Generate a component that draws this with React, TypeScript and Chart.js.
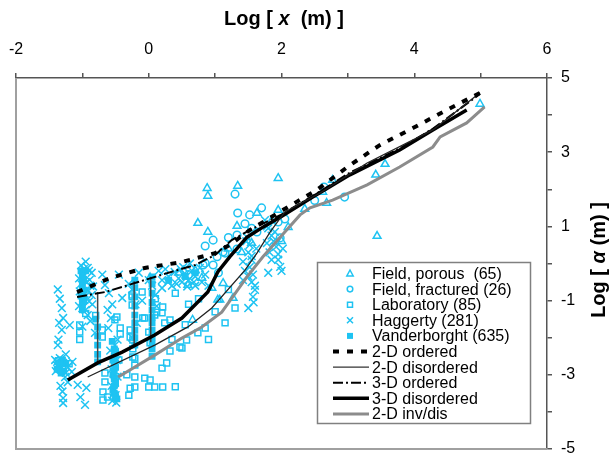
import React, { useEffect, useRef } from 'react';
import { Chart, registerables } from 'chart.js';

Chart.register(...registerables);

const FONT = "'Liberation Sans', Arial, Helvetica, sans-serif";
const CYAN = '#1ec3f2';

// x-axis tick values (top axis), y-axis tick values (right axis)
const xTickLabels = [-2, 0, 2, 4, 6];
const yTickLabels = [-5, -3, -1, 1, 3, 5];

// ---- Model curves: [log x, log alpha] ----
const ordered2D = [
  [-1.08, -0.77], [-0.58, -0.39], [-0.06, -0.12], [0.5, 0.04], [1.0, 0.28], [1.22, 0.5],
  [1.52, 0.9], [2.02, 1.44], [2.53, 1.98], [3.03, 2.65], [3.48, 3.19], [3.98, 3.65],
  [4.43, 4.08], [4.99, 4.6],
];
const disordered2D = [
  [-0.92, -3.06], [0.09, -2.2], [0.59, -1.71], [0.95, -1.2], [1.45, -0.18], [1.63, 0.28],
  [1.83, 0.85], [2.05, 1.39], [2.58, 1.9], [3.29, 2.71], [4.28, 3.6], [4.99, 4.6],
];
const ordered3D = [
  [-1.08, -0.9], [-0.66, -0.77], [-0.16, -0.5], [0.24, -0.28], [0.7, -0.04], [1.0, 0.23],
  [1.25, 0.63], [1.52, 0.9], [1.98, 1.3], [2.47, 1.82], [3.03, 2.45], [3.78, 3.1],
  [4.28, 3.63], [4.99, 4.57],
];
const disordered3D = [
  [-1.22, -3.14], [-0.77, -2.68], [-0.4, -2.39], [0.09, -1.93], [0.5, -1.47], [0.74, -1.04],
  [0.89, -0.77], [1.04, -0.23], [1.22, 0.18], [1.48, 0.71], [1.72, 0.98], [1.98, 1.25],
  [2.47, 1.79], [3.03, 2.39], [3.78, 3.06], [4.28, 3.6], [4.79, 4.14],
];
const invDis2D = [
  [-0.46, -3.06], [0.09, -2.47], [0.5, -2.01], [0.8, -1.71], [1.1, -1.31], [1.48, -0.36],
  [1.72, 0.18], [1.98, 0.71], [2.28, 1.31], [2.43, 1.5], [2.77, 1.71], [3.29, 2.12],
  [3.78, 2.6], [4.28, 3.14], [4.39, 3.41], [4.79, 3.79], [5.06, 4.22],
];
// vertical connectors between the upper and lower 3-D ordered branches
const connectorX = [-0.77, -0.22, 0.03];
const connectorTop = [-0.77, -0.48, -0.36];
const connectorBottom = [-2.65, -2.2, -2.12];

// ---- Data sets ----
const fieldPorous = [
  [0.88, 2.03], [0.89, 1.82], [1.34, 2.09], [1.95, 2.3], [0.74, 1.09], [0.89, 0.85], [1.33, 1.01],
  [1.63, 1.36], [1.95, 1.44], [2.1, 0.98], [2.35, 1.47], [2.62, 1.93], [2.68, 1.63], [2.77, 2.25],
  [3.42, 2.39], [3.56, 2.68], [4.99, 4.3], [3.44, 0.74], [0.8, -0.39], [0.95, -0.66], [1.04, -0.98],
  [0.59, -0.58], [0.7, -0.18], [1.27, -0.93], [1.07, -0.98], [1.12, -0.53], [0.66, -1.52],
  [1.4, 0.3], [1.55, 0.55], [1.2, 0.4], [0.02, -0.38], [0.45, -0.25], [1.85, 1.15], [2.0, 0.6],
];
const fieldFractured = [
  [1.3, 1.87], [1.34, 1.36], [1.52, 1.31], [1.45, 1.07], [1.33, 0.77], [0.85, 0.47], [1.03, 0.18],
  [1.15, 0.28], [1.33, 0.39], [0.97, -0.04], [0.85, 0.01], [1.95, 1.12], [1.98, 0.69], [2.95, 1.79],
  [1.63, 0.85], [0.97, 0.63], [1.12, 0.31], [0.82, -0.04], [2.64, 2.06], [2.05, 1.2], [1.55, 0.95],
  [1.2, 0.7], [0.6, -0.3], [1.7, 1.5], [2.5, 1.7], [1.05, -0.25],
];
const laboratory = [
  [-1.04, -1.66], [-1.04, -1.85], [-1.04, -2.05], [-0.43, -1.74], [-0.43, -1.9], [-0.51, -1.52],
  [-0.25, -0.9], [-0.25, -1.12], [-0.1, -0.77], [-0.09, -1.47], [0.09, -1.39], [0.2, -1.33],
  [-0.21, -2.55], [-0.21, -2.74], [-0.33, -3.0], [-0.21, -3.33], [-0.06, -3.09], [0.0, -3.33],
  [0.09, -3.33], [0.21, -3.33], [0.2, -2.82], [0.32, -2.36], [0.5, -2.28], [0.74, -1.87],
  [-0.66, -2.95], [-0.66, -3.19], [-0.69, -3.46], [0.24, -1.6], [-0.28, -3.36], [-0.69, -3.68],
  [0.02, -3.14], [0.27, -2.68], [0.47, -2.25], [0.57, -2.06], [-0.7, -1.79], [-0.7, -1.98],
  [-0.48, -1.44], [-0.24, -2.06], [-0.24, -2.3], [-0.24, -2.52], [-0.21, -3.06], [0.0, -1.85],
  [0.02, -2.14], [-0.06, -1.47], [0.12, -1.31], [0.21, -1.17], [0.32, -1.52], [-0.25, -0.85],
  [-0.28, -1.79], [-0.28, -1.98], [0.85, -1.74], [0.6, -1.1], [0.75, -0.95], [1.0, -1.3],
  [1.15, -1.6], [0.9, -2.05], [0.4, -3.32], [-0.5, -3.05], [-0.45, -2.6], [-0.95, -1.35],
  [-0.8, -1.4], [0.1, -0.95], [0.4, -0.8], [0.55, -1.65], [0.35, -2.05], [1.3, -1.2], [1.2, -0.7],
  [-1.36, -2.62], [-1.2, -2.7], [-0.62, -3.6], [-0.3, -3.55],
];
const haggerty = [
  [-1.37, -0.7], [-1.34, -0.95], [-1.31, -1.2], [-1.29, -1.47], [-1.31, -1.79], [-1.36, -2.05],
  [-1.37, -2.2], [-1.34, -2.55], [-1.29, -2.68], [-1.33, -2.85], [-1.26, -3.06], [-1.22, -3.2],
  [-1.3, -3.45], [-1.29, -3.63], [-1.29, -3.76], [-1.19, -1.66], [-1.41, -2.6], [-1.16, -2.92],
  [-1.38, -2.75], [-1.33, -3.3], [-1.25, -2.45], [-1.35, -1.6],
  [-1.38, -2.65], [-1.3, -2.72], [-1.22, -2.8], [-1.4, -2.9], [-1.15, -2.65], [-1.25, -2.95],
  [-0.95, 0.05], [-0.92, -0.12], [-0.98, -0.3], [-0.89, -0.44], [-1.02, -0.55], [-0.92, -0.71],
  [-0.86, -0.85], [-0.97, -0.98], [-0.92, -1.39], [-1.07, -3.27], [-0.94, -3.35], [-0.96, -3.81],
  [-1.03, -3.6], [-0.81, -1.87], [-0.9, -0.2], [-0.88, -0.6], [-1.0, -1.2], [-0.85, -1.1],
  [-1.02, -0.05], [-0.98, -0.15], [-0.86, -0.25], [-1.05, -0.4], [-0.94, -0.5], [-0.84, -0.62],
  [-1.04, -0.75], [-0.95, -0.88], [-0.9, -1.02], [-1.05, -1.15], [-0.95, -1.25], [-0.88, -1.55],
  [-1.0, -1.7],
  [-0.66, -0.58], [-0.6, -0.8], [-0.55, -1.1], [-0.62, -1.25], [-0.57, -1.47], [-0.61, -1.74],
  [-0.51, -2.2], [-0.51, -2.45], [-0.51, -2.7], [-0.53, -2.95], [-0.51, -3.2], [-0.51, -3.4],
  [-0.5, -3.55], [-0.4, -0.93], [-0.45, -0.3], [-0.7, -0.3], [-0.47, -2.05], [-0.55, -3.7],
  [-0.58, -2.35], [-0.48, -2.6], [-0.56, -2.85], [-0.47, -3.05], [-0.56, -3.3], [-0.49, -3.75],
  [-0.3, -0.55], [-0.15, -0.25], [0.2, -0.66], [0.29, -0.5], [0.05, -0.6], [-0.1, -1.0], [0.15, -0.2],
  [-0.25, -0.7], [-0.2, -1.1], [-0.18, -1.6], [-0.25, -2.0], [0.0, -0.45], [0.1, -0.85], [0.12, -1.15],
  [0.39, -0.23], [0.45, -0.4], [0.5, -0.5], [0.55, -0.3], [0.6, -0.45], [0.65, -0.2], [0.7, -0.35],
  [0.7, -0.6], [0.35, -0.6], [0.48, -0.15], [0.58, -0.62], [0.77, -0.12], [0.3, -0.35], [0.62, 0.0],
  [0.8, -0.5], [0.25, -0.15], [0.42, -0.55], [0.52, -0.1], [0.68, -0.5], [0.85, -0.3], [0.2, -0.45],
  [0.9, -0.6],
  [1.48, 0.71], [1.52, 0.5], [1.5, 0.3], [1.55, 0.1], [1.52, -0.1], [1.57, -0.3], [1.55, -0.5],
  [1.6, -0.71], [1.57, -0.9], [1.45, -0.2], [1.62, 0.4], [1.42, 0.05], [1.5, -1.2], [1.42, -0.45],
  [1.47, 0.6], [1.55, 0.2], [1.5, -0.35], [1.6, -0.6], [1.58, -1.05],
  [1.75, 1.17], [1.8, 0.95], [1.85, 0.75], [1.78, 0.55], [1.92, 0.45], [1.95, 0.25], [1.85, 0.1],
  [1.98, -0.09], [1.8, -0.25], [1.9, 0.85], [2.02, 0.4], [1.78, 1.0], [1.88, 0.6], [1.82, 0.3],
  [1.95, 0.1], [2.0, -0.2],
];
const vanderborght = [
  [-1.0, -0.35], [-1.0, -0.5], [-1.0, -0.65], [-1.0, -0.8], [-1.0, -0.95], [-1.0, -1.1], [-0.95, -0.2],
  [-1.02, -0.2], [-0.98, -0.45], [-0.97, -0.72], [-1.02, -0.88], [-0.98, -1.02], [-1.0, -1.25],
  [-0.77, -1.71], [-0.77, -2.65], [-0.77, -2.45], [-0.8, -1.5], [-0.77, -1.95], [-0.77, -2.2],
  [-1.3, -2.6], [-1.35, -2.75], [-1.28, -2.9], [-1.33, -2.68], [-1.25, -2.7], [-1.38, -2.85],
  [-1.32, -2.95],
  [-0.52, -2.3], [-0.52, -2.5], [-0.52, -2.7], [-0.52, -2.9], [-0.52, -3.1], [-0.52, -3.3],
  [-0.52, -3.5], [-0.48, -3.65], [-0.55, -2.1], [-0.5, -2.4], [-0.54, -2.6], [-0.5, -2.8],
  [-0.54, -3.0], [-0.5, -3.2], [-0.54, -3.4], [-0.5, -3.6],
  [-0.21, -0.45], [-0.21, -1.39], [-0.21, -2.2], [-0.21, -1.8], [-0.21, -0.9], [-0.21, -0.65],
  [-0.21, -1.15], [-0.21, -1.6], [-0.21, -2.0],
  [0.05, -0.36], [0.05, -1.25], [0.05, -1.98], [0.05, -2.3], [0.05, -2.5], [0.05, -0.8], [0.05, -1.6],
  [0.05, -0.55], [0.05, -1.05], [0.05, -1.45], [0.05, -1.8], [0.05, -2.15],
  [0.3, -0.45], [0.55, -0.35], [0.7, -0.25],
];

const legendScatter = [
  { label: 'Field, porous  (65)', style: 'triangle' },
  { label: 'Field, fractured (26)', style: 'circle' },
  { label: 'Laboratory (85)', style: 'rect' },
  { label: 'Haggerty (281)', style: 'cross' },
  { label: 'Vanderborght (635)', style: 'filled' },
];
const legendLines = [
  { label: '2-D ordered', color: '#000', width: 4, dash: [6, 8] },
  { label: '2-D disordered', color: '#333', width: 1.2, dash: [] },
  { label: '3-D ordered', color: '#000', width: 2, dash: [10, 3, 2, 3] },
  { label: '3-D disordered', color: '#000', width: 3.5, dash: [] },
  { label: '2-D inv/dis', color: '#8c8c8c', width: 3, dash: [] },
];

const toPts = (a: number[][]) => a.map(([x, y]) => ({ x, y }));

function drawMarker(ctx: CanvasRenderingContext2D, style: string, x: number, y: number) {
  ctx.save();
  ctx.strokeStyle = CYAN;
  ctx.fillStyle = CYAN;
  ctx.lineWidth = 1.5;
  ctx.beginPath();
  if (style === 'triangle') {
    ctx.moveTo(x, y - 3.5);
    ctx.lineTo(x + 3.2, y + 2.5);
    ctx.lineTo(x - 3.2, y + 2.5);
    ctx.closePath();
    ctx.stroke();
  } else if (style === 'circle') {
    ctx.arc(x, y, 2.8, 0, Math.PI * 2);
    ctx.stroke();
  } else if (style === 'rect') {
    ctx.rect(x - 2.5, y - 2.5, 5, 5);
    ctx.stroke();
  } else if (style === 'cross') {
    ctx.moveTo(x - 3, y - 3);
    ctx.lineTo(x + 3, y + 3);
    ctx.moveTo(x + 3, y - 3);
    ctx.lineTo(x - 3, y + 3);
    ctx.stroke();
  } else {
    ctx.fillRect(x - 3, y - 3, 6, 6);
  }
  ctx.restore();
}

function drawRich(ctx: CanvasRenderingContext2D, parts: { t: string; it?: boolean }[], cx: number, cy: number, size: number) {
  const fonts = parts.map((p) => `${p.it ? 'italic ' : ''}bold ${size}px ${FONT}`);
  let total = 0;
  const widths = parts.map((p, i) => {
    ctx.font = fonts[i];
    const w = ctx.measureText(p.t).width;
    total += w;
    return w;
  });
  let x = cx - total / 2;
  ctx.textBaseline = 'middle';
  ctx.textAlign = 'left';
  ctx.fillStyle = '#000';
  parts.forEach((p, i) => {
    ctx.font = fonts[i];
    ctx.fillText(p.t, x, cy);
    x += widths[i];
  });
}

const overlayPlugin = {
  id: 'overlay',
  afterDraw(chart: any) {
    const ctx: CanvasRenderingContext2D = chart.ctx;
    const { left, right, top, bottom } = chart.chartArea;
    ctx.save();
    // left & bottom frame lines (light gray)
    ctx.strokeStyle = '#a0a0a0';
    ctx.lineWidth = 2;
    ctx.beginPath();
    ctx.moveTo(left, top);
    ctx.lineTo(left, bottom);
    ctx.lineTo(right, bottom);
    ctx.stroke();

    // axis titles
    drawRich(ctx, [{ t: 'Log [ ' }, { t: 'x', it: true }, { t: '  (m) ]' }], 284, 19, 20);
    ctx.save();
    ctx.translate(599, 260);
    ctx.rotate(-Math.PI / 2);
    drawRich(ctx, [{ t: 'Log [ ' }, { t: 'α', it: true }, { t: ' (m) ]' }], 0, 0, 20);
    ctx.restore();

    // legend box
    const bx = 317.5, by = 262.5, bw = 213, bh = 161;
    ctx.fillStyle = '#fff';
    ctx.fillRect(bx, by, bw, bh);
    ctx.strokeStyle = '#808080';
    ctx.lineWidth = 1.5;
    ctx.strokeRect(bx, by, bw, bh);
    const rowY0 = 273.5, step = 15.6;
    ctx.textBaseline = 'middle';
    ctx.textAlign = 'left';
    legendScatter.forEach((it, i) => {
      const y = rowY0 + i * step;
      drawMarker(ctx, it.style, 350, y);
      ctx.fillStyle = '#000';
      ctx.font = `16px ${FONT}`;
      ctx.fillText(it.label, 372, y + 1);
    });
    legendLines.forEach((it, j) => {
      const y = rowY0 + (j + 5) * step;
      ctx.save();
      ctx.strokeStyle = it.color;
      ctx.lineWidth = it.width;
      ctx.setLineDash(it.dash);
      ctx.beginPath();
      ctx.moveTo(333, y);
      ctx.lineTo(369, y);
      ctx.stroke();
      ctx.restore();
      ctx.fillStyle = '#000';
      ctx.font = `16px ${FONT}`;
      ctx.fillText(it.label, 372, y + 1);
    });
    ctx.restore();
  },
};

const zeroPad = (s: any) => {
  s.paddingLeft = 0;
  s.paddingRight = 0;
  s.paddingTop = 0;
  s.paddingBottom = 0;
};

export default function App() {
  const ref = useRef<HTMLCanvasElement | null>(null);
  useEffect(() => {
    document.body.style.margin = '0';
    const canvas = ref.current;
    if (!canvas) return;

    const connectorPts: any[] = [];
    connectorX.forEach((x, i) => {
      connectorPts.push({ x, y: connectorTop[i] });
      connectorPts.push({ x, y: connectorBottom[i] });
      connectorPts.push({ x, y: null });
    });

    const lineDs = (label: string, data: number[][], color: string, width: number, dash: number[]) => ({
      label,
      data: toPts(data),
      showLine: true,
      borderColor: color,
      backgroundColor: color,
      borderWidth: width,
      borderDash: dash,
      pointRadius: 0,
      pointHoverRadius: 0,
      fill: false,
      tension: 0,
      order: 0,
    });

    const scatterDs = (label: string, data: number[][], style: string, radius: number, filled: boolean) => ({
      label,
      data: toPts(data),
      showLine: false,
      pointStyle: style,
      pointRadius: radius,
      pointBorderColor: CYAN,
      borderColor: CYAN,
      pointBackgroundColor: filled ? CYAN : 'rgba(0,0,0,0)',
      backgroundColor: filled ? CYAN : 'rgba(0,0,0,0)',
      pointBorderWidth: 1.5,
      borderWidth: 1.5,
      order: 1,
    });

    const chart = new Chart(canvas, {
      type: 'scatter',
      data: {
        datasets: [
          lineDs('2-D ordered', ordered2D, '#000', 4, [6, 8]),
          lineDs('2-D disordered', disordered2D, '#222', 1.3, []),
          lineDs('3-D ordered', ordered3D, '#000', 2, [10, 3, 2, 3]),
          lineDs('3-D disordered', disordered3D, '#000', 3.5, []),
          lineDs('2-D inv/dis', invDis2D, '#8c8c8c', 3, []),
          {
            label: 'connectors',
            data: connectorPts,
            showLine: true,
            spanGaps: false,
            borderColor: '#444',
            borderWidth: 1.5,
            pointRadius: 0,
            order: 0,
          },
          scatterDs('Field, porous (65)', fieldPorous, 'triangle', 4.5, false),
          scatterDs('Field, fractured (26)', fieldFractured, 'circle', 3.8, false),
          scatterDs('Laboratory (85)', laboratory, 'rect', 4.2, false),
          scatterDs('Haggerty (281)', haggerty, 'crossRot', 5.5, false),
          scatterDs('Vanderborght (635)', vanderborght, 'rect', 3.8, true),
        ] as any,
      },
      options: {
        animation: false,
        responsive: false,
        devicePixelRatio: 1,
        layout: { padding: { left: 16, right: 0, top: 0, bottom: 11 } },
        plugins: { legend: { display: false }, tooltip: { enabled: false }, title: { display: false } },
        scales: {
          x: {
            type: 'linear',
            position: 'top',
            min: -2,
            max: 6,
            afterFit: (s: any) => { s.height = 78; zeroPad(s); },
            ticks: {
              stepSize: 1,
              autoSkip: false,
              maxRotation: 0,
              padding: 14,
              color: '#000',
              font: { family: FONT, size: 16 },
              callback: (v: any) => (xTickLabels.includes(Number(v)) ? String(v) : ''),
            },
            grid: { drawOnChartArea: false, drawTicks: true, tickLength: 5, color: '#555', lineWidth: 1.5 },
            border: { display: true, color: '#555', width: 1.5 },
          },
          y: {
            type: 'linear',
            position: 'right',
            min: -5,
            max: 5,
            afterFit: (s: any) => { s.width = 64; zeroPad(s); },
            ticks: {
              stepSize: 1,
              autoSkip: false,
              padding: 9,
              color: '#000',
              font: { family: FONT, size: 16 },
              callback: (v: any) => (yTickLabels.includes(Number(v)) ? String(v) : ''),
            },
            grid: { drawOnChartArea: false, drawTicks: true, tickLength: 5, color: '#555', lineWidth: 1.5 },
            border: { display: true, color: '#555', width: 1.5 },
          },
        },
      } as any,
      plugins: [overlayPlugin],
    });
    return () => chart.destroy();
  }, []);

  return (
    <div style={{ width: 611, height: 460 }}>
      <canvas ref={ref} width={611} height={460} style={{ display: 'block' }} />
    </div>
  );
}
